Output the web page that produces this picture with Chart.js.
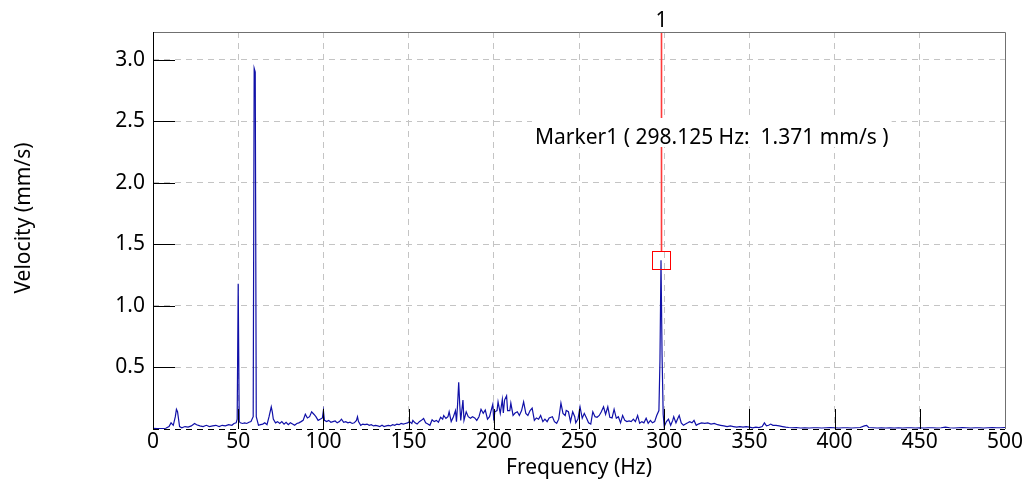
<!DOCTYPE html>
<html>
<head>
<meta charset="utf-8">
<script src="https://cdn.jsdelivr.net/npm/chart.js@4/dist/chart.umd.min.js"></script>
<style>
  html, body { margin: 0; padding: 0; background: #fff; }
  #wrap { width: 1024px; height: 488px; }
</style>
</head>
<body>
<div id="wrap"><canvas id="spec" width="1024" height="488"></canvas></div>
<script>
// spectrum (Hz / mm/s)
const freqLow = [0, 2.5, 5, 7.5, 9.4, 10.6, 11.9, 13.1, 13.75, 14.4, 15.6, 16.9, 18.8, 20.6, 22.5, 24.4, 25.6, 27.5, 29.4, 31.3, 33.1, 35, 36.9, 38.8, 40.6, 42.5, 44.4, 46.3, 47.5, 48.8, 49.4, 50, 50.6,
  51.3, 52.5, 53.8, 55, 56.3, 57.5, 58.8, 59.375, 60, 60.6, 61.9, 63.1, 64.4, 65.6, 66.9, 68.1, 69.4, 70, 70.6, 71.9, 73.1, 74.4, 75.6, 76.9, 78.1, 79.4, 80.6, 81.9, 83.1, 84.4, 85.6, 86.9, 88.1, 89.4, 90.6, 91.9, 93.1, 94.4, 95.6, 96.9, 98.1, 99.4];
const velLow = [0.005, 0.004, 0.004, 0.006, 0.02, 0.05, 0.03, 0.1, 0.16, 0.14, 0.02, 0.01, 0.02, 0.015, 0.025, 0.045, 0.035, 0.025, 0.02, 0.03, 0.02, 0.025, 0.03, 0.02, 0.03, 0.025, 0.035, 0.03, 0.045, 0.05, 0.08, 1.18, 0.06,
  0.05, 0.045, 0.05, 0.045, 0.055, 0.06, 0.1, 2.93, 2.9, 0.1, 0.03, 0.035, 0.04, 0.05, 0.035, 0.1, 0.18, 0.14, 0.08, 0.05, 0.06, 0.045, 0.06, 0.04, 0.055, 0.035, 0.05, 0.04, 0.03, 0.045, 0.05, 0.06, 0.07, 0.12, 0.09, 0.1, 0.14, 0.12, 0.1, 0.07, 0.08, 0.09];

const freqMid = [100, 100.6, 101.9, 103.1, 104.4, 105.6, 106.9, 108.1, 109.4, 110.6, 111.9, 113.1, 114.4, 115.6, 116.9, 118.1, 119.4, 120, 120.6, 121.9, 123.1, 124.4, 125.6, 126.9, 128.1, 129.4, 130.6, 131.9, 133.1, 134.4, 135.6, 136.9, 138.1, 139.4, 140.6, 141.9, 143.1, 144.4, 145.6, 146.9, 148.1, 149.4,
  150.6, 151.9, 152.5, 153.8, 155, 156.3, 157.5, 158.8, 160, 161.3, 162.5, 163.8, 165, 166.3, 167.5, 168.8, 170, 170.6, 171.9, 173.1, 173.8, 175, 176.3, 177.5, 178.1, 178.75, 179.4, 180, 180.6, 181.9, 182.5, 183.8, 185, 186.3, 187.5, 188.8, 190, 191.3, 192.5, 193.8, 195, 196.3, 197.5, 198.8, 199.4];
const velMid = [0.15, 0.07, 0.06, 0.07, 0.055, 0.06, 0.065, 0.05, 0.06, 0.08, 0.055, 0.06, 0.05, 0.055, 0.045, 0.05, 0.07, 0.1, 0.06, 0.03, 0.04, 0.035, 0.04, 0.03, 0.035, 0.025, 0.03, 0.025, 0.02, 0.03, 0.02, 0.025, 0.03, 0.025, 0.035, 0.03, 0.04, 0.035, 0.045, 0.04, 0.045, 0.05,
  0.06, 0.045, 0.07, 0.05, 0.04, 0.06, 0.07, 0.085, 0.05, 0.04, 0.03, 0.075, 0.06, 0.07, 0.055, 0.095, 0.08, 0.11, 0.087, 0.1, 0.14, 0.06, 0.1, 0.15, 0.06, 0.2, 0.38, 0.2, 0.07, 0.235, 0.07, 0.14, 0.1, 0.087, 0.1, 0.09, 0.07, 0.1, 0.16, 0.127, 0.154, 0.08, 0.1, 0.17, 0.2];

const freqBusy = [200, 200.6, 201.9, 202.5, 203.8, 205, 205.6, 206.3, 207.5, 208.1, 209.4, 210, 211.3, 212.5, 213.8, 215, 216.3, 217.5, 218.8, 220, 221.3, 222.5, 223.8, 225, 226.3, 227.5, 228.8, 230, 231.3, 232.5, 234.4, 235.6, 236.9, 238.1, 239.4, 240.6, 241.9, 242.5, 243.8, 245, 246.3, 247.5, 248.1, 249.4,
  250.6, 251.9, 253.1, 254.4, 255.6, 256.9, 258.1, 259.4, 260.6, 261.9, 263.1, 264.4, 265.6, 266.9, 268.1, 269.4, 270.6, 271.9, 273.1, 274.4, 275.6, 276.9, 278.1, 279.4, 280.6, 281.9, 283.1, 284.4, 285.6, 286.9, 288.1, 289.4, 290.6, 291.9, 293.1, 294.4, 295.6, 296.9, 297.5, 298.125, 298.75, 299.4];
const velBusy = [0.07, 0.14, 0.15, 0.22, 0.127, 0.24, 0.13, 0.235, 0.27, 0.15, 0.15, 0.21, 0.11, 0.13, 0.14, 0.11, 0.15, 0.22, 0.127, 0.11, 0.15, 0.17, 0.07, 0.09, 0.08, 0.11, 0.06, 0.08, 0.06, 0.09, 0.1, 0.06, 0.046, 0.08, 0.21, 0.127, 0.11, 0.15, 0.14, 0.06, 0.14, 0.1, 0.05, 0.08,
  0.18, 0.087, 0.127, 0.09, 0.05, 0.04, 0.14, 0.1, 0.095, 0.11, 0.14, 0.18, 0.12, 0.18, 0.095, 0.09, 0.16, 0.087, 0.1, 0.05, 0.11, 0.07, 0.06, 0.065, 0.06, 0.08, 0.06, 0.11, 0.046, 0.06, 0.05, 0.087, 0.046, 0.07, 0.05, 0.06, 0.11, 0.15, 0.55, 1.371, 0.6, 0.12];

const freqHigh = [300, 301.3, 302.5, 303.8, 305, 305.6, 306.9, 308.1, 308.8, 310, 311.3, 312.5, 313.8, 315, 316.3, 317.5, 318.8, 320, 321.9, 323.8, 325.6, 327.5, 329.4, 331.3, 333.1, 335, 336.9, 338.8, 340.6, 342.5, 344.4, 346.3, 348.1, 350, 351.9, 353.8, 355.6, 357.5, 358.8, 360, 361.3, 362.5, 363.8, 365.6, 367.5, 369.4, 371.3, 373.1,
  375, 377.5, 380, 382.5, 385, 387.5, 390, 392.5, 395, 397.5, 400, 402.5, 405, 407.5, 410, 412.5, 415, 417.5, 418.8, 420, 422.5, 425, 427.5, 430, 432.5, 435, 437.5, 440, 442.5, 445, 447.5, 450, 452.5, 455, 457.5, 460, 462.5, 465, 467.5, 470, 472.5, 475, 477.5, 480, 482.5, 485, 487.5, 490, 492.5, 495, 497.5, 500];
const velHigh = [0.02, 0.06, 0.08, 0.03, 0.07, 0.1, 0.05, 0.09, 0.11, 0.05, 0.03, 0.04, 0.05, 0.06, 0.05, 0.07, 0.03, 0.04, 0.05, 0.045, 0.05, 0.04, 0.045, 0.035, 0.03, 0.025, 0.02, 0.025, 0.02, 0.015, 0.02, 0.015, 0.02, 0.015, 0.01, 0.015, 0.012, 0.02, 0.05, 0.025, 0.03, 0.04, 0.03, 0.03, 0.025, 0.02, 0.015, 0.012,
  0.01, 0.012, 0.008, 0.01, 0.008, 0.01, 0.01, 0.008, 0.01, 0.012, 0.01, 0.008, 0.01, 0.01, 0.008, 0.01, 0.012, 0.025, 0.03, 0.012, 0.01, 0.008, 0.01, 0.008, 0.01, 0.008, 0.01, 0.008, 0.01, 0.01, 0.008, 0.01, 0.008, 0.01, 0.01, 0.008, 0.01, 0.015, 0.01, 0.008, 0.01, 0.012, 0.01, 0.008, 0.01, 0.01, 0.008, 0.01, 0.012, 0.01, 0.01, 0.012];

const xTicks = [0, 50, 100, 150, 200, 250, 300, 350, 400, 450, 500];
const yTicks = [0.5, 1.0, 1.5, 2.0, 2.5, 3.0];
const markerFreq = 298.125;
const markerVel = 1.371;

const FONT = 'Noto Sans';
const freqs = freqLow.concat(freqMid, freqBusy, freqHigh);
const vels = velLow.concat(velMid, velBusy, velHigh);
const points = freqs.map((f, i) => ({ x: f, y: vels[i] }));

// axis frame, inner tick marks, titles and the marker
const framePlugin = {
  id: 'frame',
  afterDatasetsDraw(chart) {
    const { ctx, chartArea: a, scales } = chart;
    const xs = scales.x, ys = scales.y;
    ctx.save();
    ctx.lineWidth = 1;

    // inner tick marks
    ctx.strokeStyle = '#000';
    ctx.beginPath();
    yTicks.forEach(v => {
      const y = Math.round(ys.getPixelForValue(v)) + 0.5;
      ctx.moveTo(a.left, y); ctx.lineTo(a.left + 22, y);
    });
    xTicks.slice(1).forEach(v => {
      const x = Math.round(xs.getPixelForValue(v)) + 0.5;
      ctx.moveTo(x, a.bottom); ctx.lineTo(x, a.bottom - 20);
    });
    ctx.stroke();

    // top / right border grey, left solid black, bottom dashed black
    ctx.strokeStyle = '#707070';
    ctx.beginPath();
    ctx.moveTo(a.left, Math.round(a.top) + 0.5);
    ctx.lineTo(Math.round(a.right) + 0.5, Math.round(a.top) + 0.5);
    ctx.lineTo(Math.round(a.right) + 0.5, a.bottom);
    ctx.stroke();
    ctx.strokeStyle = '#000';
    ctx.beginPath();
    ctx.moveTo(Math.round(a.left) + 0.5, a.top);
    ctx.lineTo(Math.round(a.left) + 0.5, a.bottom);
    ctx.stroke();
    ctx.setLineDash([6, 5]);
    ctx.beginPath();
    ctx.moveTo(a.left, Math.round(a.bottom) + 0.5);
    ctx.lineTo(a.right, Math.round(a.bottom) + 0.5);
    ctx.stroke();
    ctx.setLineDash([]);

    // marker: red cursor line and box round the picked point
    const mx = Math.round(xs.getPixelForValue(markerFreq));
    const my = ys.getPixelForValue(markerVel);
    const boxTop = Math.round(my - 9);
    ctx.fillStyle = '#ff3a3a';
    ctx.fillRect(mx - 0.3, Math.round(a.top) + 1, 1.6, boxTop - Math.round(a.top) - 1);
    ctx.strokeStyle = '#ff0000';
    ctx.strokeRect(mx - 8.5, boxTop + 0.5, 18, 18);

    ctx.font = '21px "' + FONT + '"';
    ctx.fillStyle = '#000';
    ctx.textBaseline = 'alphabetic';
    ctx.textAlign = 'center';
    ctx.fillText('1', mx + 0.5, 27);

    const label = 'Marker1 ( ' + markerFreq.toFixed(3) + ' Hz:  ' + markerVel.toFixed(3) + ' mm/s )';
    const lw = ctx.measureText(label).width;
    const lx = mx - 126;
    ctx.fillStyle = '#fff';
    ctx.fillRect(lx - 3, 118, lw + 6, 29);
    ctx.fillStyle = '#000';
    ctx.textAlign = 'left';
    ctx.fillText(label, lx, 144);

    // axis titles
    ctx.textAlign = 'center';
    ctx.fillText('Frequency (Hz)', (a.left + a.right) / 2, 474);
    ctx.translate(30, 218);
    ctx.rotate(-Math.PI / 2);
    ctx.fillText('Velocity (mm/s)', 0, 0);
    ctx.restore();
  }
};

new Chart(document.getElementById('spec'), {
  type: 'line',
  data: {
    datasets: [{
      data: points,
      borderColor: '#1010a8',
      borderWidth: 1.2,
      pointRadius: 0,
      tension: 0,
      fill: false
    }]
  },
  options: {
    responsive: false,
    animation: false,
    events: [],
    layout: { padding: { top: 32, right: 19, left: 0, bottom: 0 } },
    plugins: { legend: { display: false }, tooltip: { enabled: false } },
    scales: {
      x: {
        type: 'linear',
        min: 0,
        max: 500,
        afterFit: s => { s.height = 59; },
        afterBuildTicks: s => { s.ticks = xTicks.map(v => ({ value: v })); },
        ticks: { color: '#000', font: { family: FONT, size: 21 }, padding: 0, maxRotation: 0 },
        grid: {
          drawTicks: false,
          color: ctx => ctx.tick && (ctx.tick.value === 0 || ctx.tick.value === 500) ? 'rgba(0,0,0,0)' : '#c4c4c4'
        },
        border: { display: false, dash: [6, 5] }
      },
      y: {
        min: 0,
        max: 3.225,
        afterFit: s => { s.width = 153; },
        afterBuildTicks: s => { s.ticks = yTicks.map(v => ({ value: v })); },
        ticks: { color: '#000', font: { family: FONT, size: 21 }, padding: 8, callback: v => v.toFixed(1) },
        grid: { drawTicks: false, color: '#c4c4c4' },
        border: { display: false, dash: [6, 5] }
      }
    }
  },
  plugins: [framePlugin]
});
</script>
</body>
</html>
